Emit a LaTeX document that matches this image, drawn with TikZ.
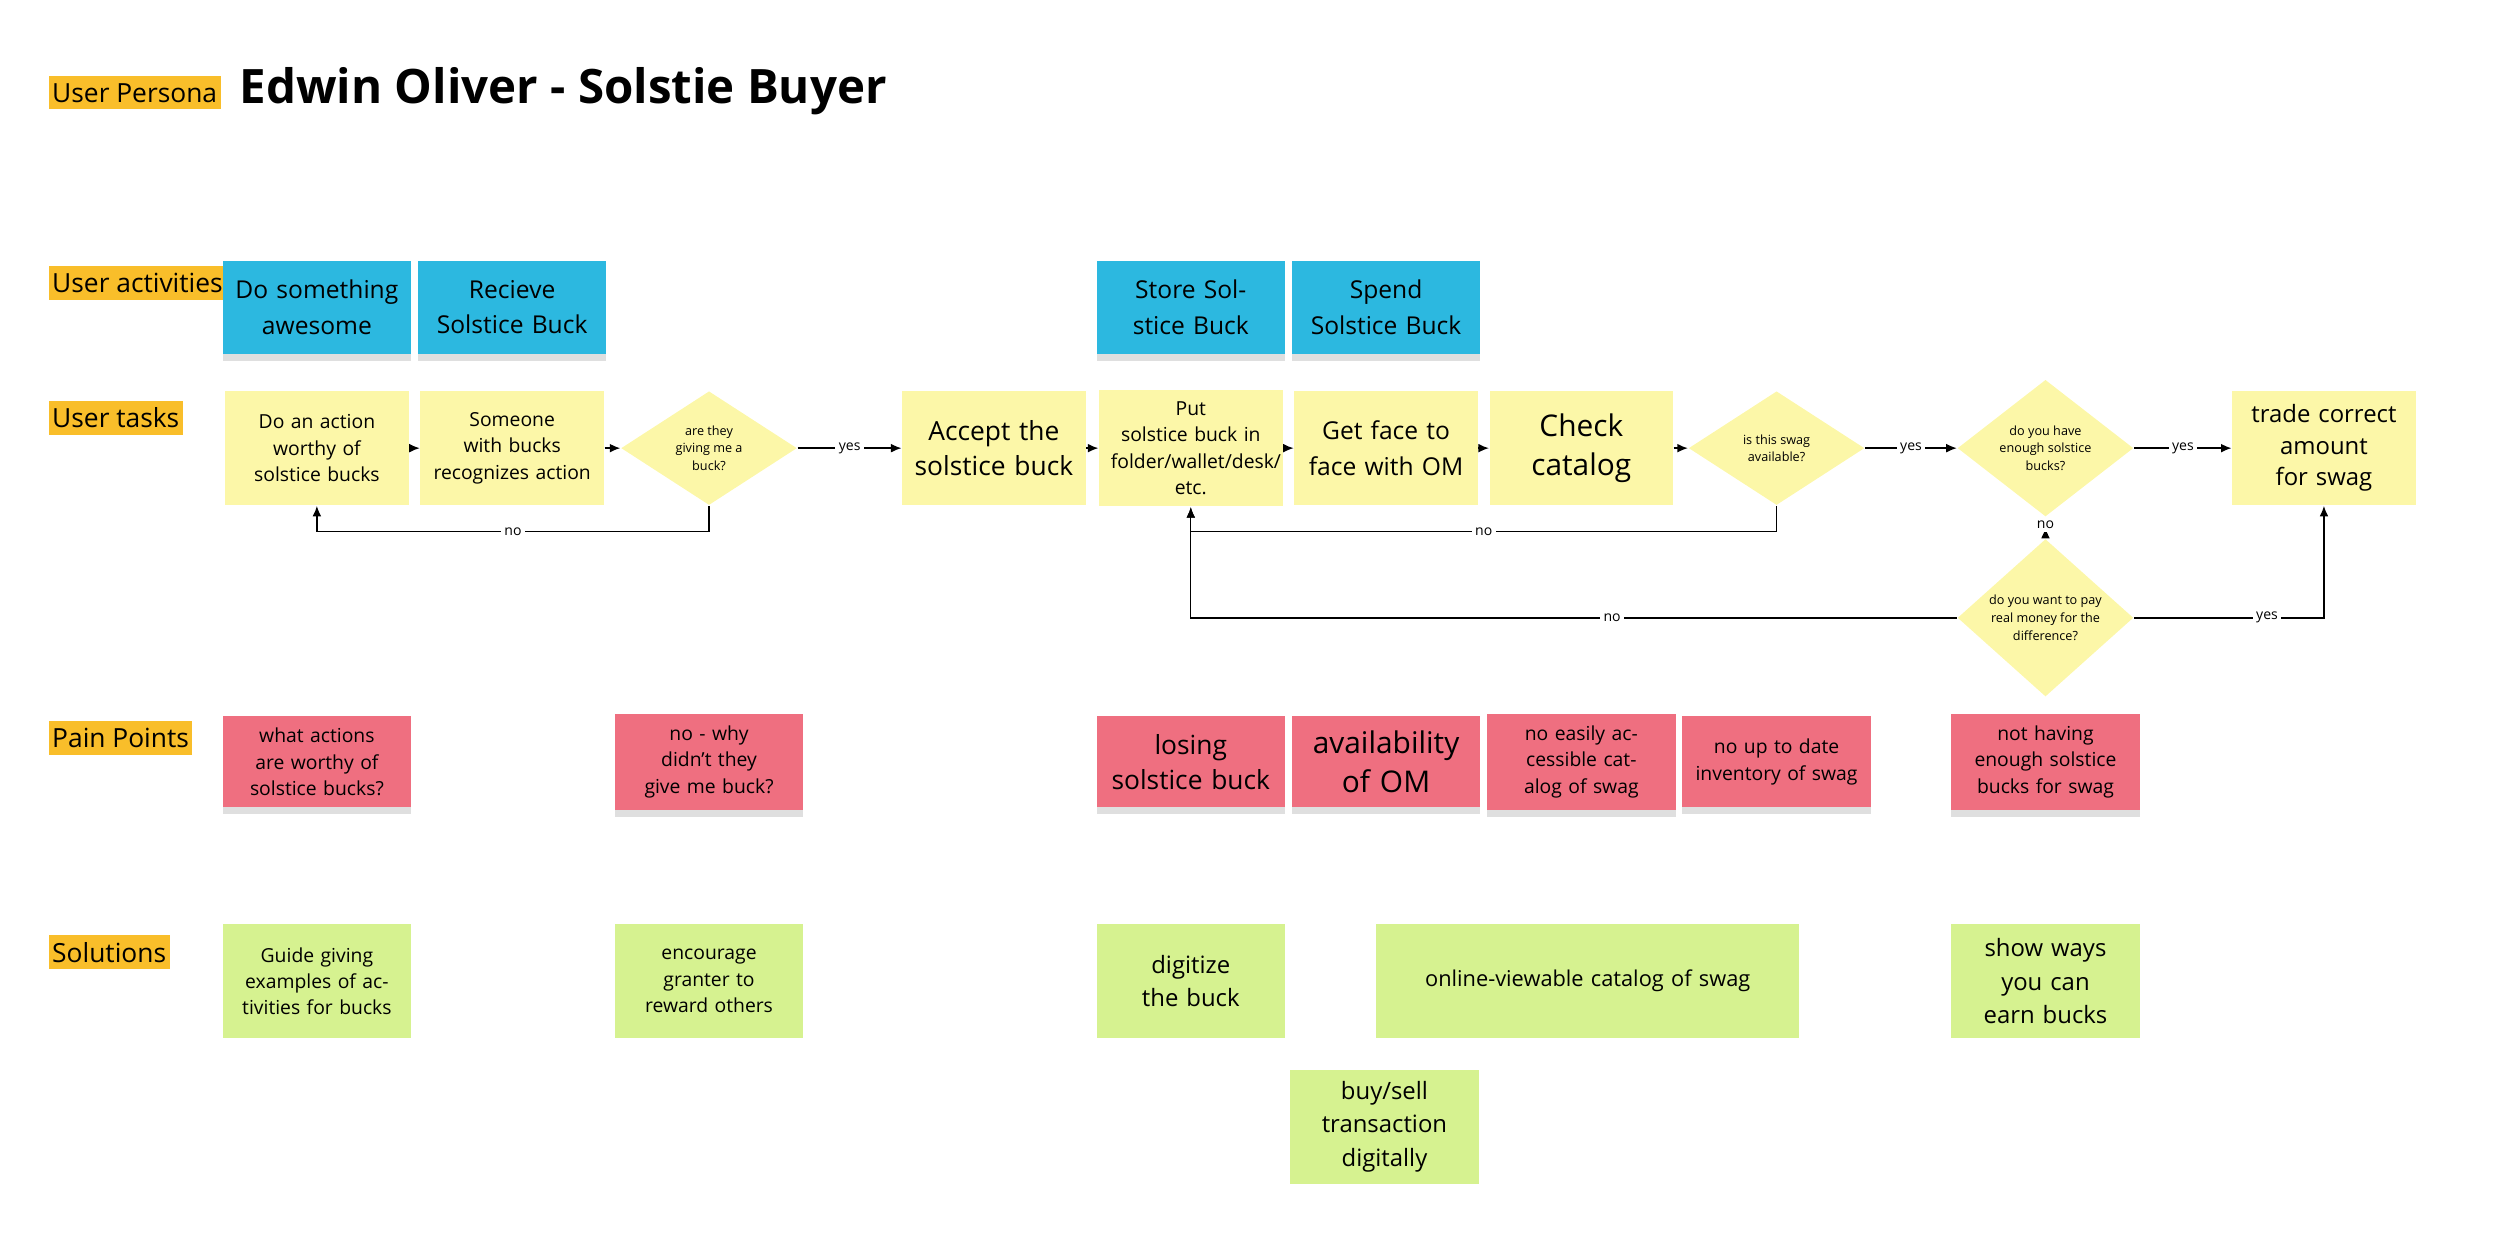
\documentclass[tikz,border=0pt]{standalone}
\usepackage{fontspec}
\setmainfont{Open Sans}
\usetikzlibrary{shapes.geometric,arrows.meta,shadows}
\definecolor{tagor}{HTML}{F9BE2A}
\definecolor{stblue}{HTML}{2CB8E0}
\definecolor{styel}{HTML}{FCF7A8}
\definecolor{stpink}{HTML}{EF6F80}
\definecolor{stgreen}{HTML}{D6F290}
\tikzset{
  tag/.style={fill=tagor, inner xsep=1pt, inner ysep=2pt, anchor=west, font=\fontsize{7.5}{9}\selectfont},
  act/.style={fill=stblue, minimum width=1.71cm, minimum height=0.93cm, align=center, text width=1.65cm,
    font=\fontsize{7}{10}\selectfont, drop shadow={opacity=0.25, shadow xshift=0pt, shadow yshift=-2pt}},
  task/.style={fill=styel, minimum width=1.76cm, minimum height=1.14cm, align=center, text width=1.6cm,
    font=\fontsize{5.5}{7.5}\selectfont},
  bigtask/.style={task, font=\fontsize{7.5}{10}\selectfont},
  ask/.style={diamond, fill=styel, minimum width=1.76cm, minimum height=1.14cm, inner sep=0pt, align=center,
    font=\fontsize{3.6}{5}\selectfont},
  pain/.style={fill=stpink, minimum width=1.71cm, minimum height=0.91cm, align=center, text width=1.65cm,
    font=\fontsize{5.5}{7.5}\selectfont, drop shadow={opacity=0.25, shadow xshift=0pt, shadow yshift=-2pt}},
  fix/.style={fill=stgreen, minimum width=1.76cm, minimum height=1.14cm, align=center, text width=1.65cm,
    font=\fontsize{5.5}{7.5}\selectfont},
  flow/.style={-{Latex[length=3pt,width=2.5pt]}, line width=0.4pt},
  lbl/.style={fill=white, inner sep=1pt, font=\fontsize{4}{5}\selectfont}
}
\begin{document}
\begin{tikzpicture}[x=0.016cm, y=-0.016cm]
  \useasboundingbox (0,0) rectangle (1562,786);
  % row labels
  \node[tag] (persona) at (30,58) {User Persona};
  \node[tag] (acts) at (30,177) {User activities};
  \node[tag] (tasks) at (30,261) {User tasks};
  \node[tag] (pains) at (30,461) {Pain Points};
  \node[tag] (sols) at (30,595) {Solutions};
  \node[anchor=west, font=\fontsize{13.5}{16}\selectfont\bfseries] (title) at (142,57) {Edwin Oliver - Solstie Buyer};

  % activities
  \node[act] (a1) at (198,192) {Do something awesome};
  \node[act] (a2) at (320,192) {Recieve Solstice Buck};
  \node[act] (a3) at (744,192) {Store Solstice Buck};
  \node[act] (a4) at (866,192) {Spend Solstice Buck};

  % tasks
  \node[task] (t1) at (198,280) {Do an action worthy of solstice bucks};
  \node[task] (t2) at (320,280) {Someone with bucks recognizes action};
  \node[ask] (q1) at (443,280) {are they\\giving me a\\buck?};
  \node[bigtask] (t3) at (621,280) {Accept the solstice buck};
  \node[task] (t4) at (744,280) {Put solstice buck in folder/wallet/desk/ etc.};
  \node[bigtask, font=\fontsize{7}{10}\selectfont] (t5) at (866,280) {Get face to face with OM};
  \node[bigtask, font=\fontsize{8.5}{11}\selectfont] (t6) at (988,280) {Check catalog};
  \node[ask] (q2) at (1110,280) {is this swag\\available?};
  \node[ask] (q3) at (1278,280) {do you have\\enough solstice\\bucks?};
  \node[bigtask, font=\fontsize{6.8}{9}\selectfont] (t7) at (1452,280) {trade correct amount for swag};
  \node[ask] (q4) at (1278,386) {do you want to pay\\real money for the\\difference?};

  \draw[flow] (t1) -- (t2);
  \draw[flow] (t2) -- (q1);
  \draw[flow] (q1) -- node[lbl] {yes} (t3);
  \draw[flow] (t3) -- (t4);
  \draw[flow] (t4) -- (t5);
  \draw[flow] (t5) -- (t6);
  \draw[flow] (t6) -- (q2);
  \draw[flow] (q2) -- node[lbl] {yes} (q3);
  \draw[flow] (q3) -- node[lbl] {yes} (t7);
  \draw[flow] (q1.south) |- node[lbl, pos=0.75] {no} (198,332) -- (t1.south);
  \draw[flow] (q2.south) |- node[lbl, pos=0.75] {no} (744,332) -- (t4.south);
  \draw[flow] (q4.west) -- node[lbl, pos=0.45] {no} (744,386) -- (t4.south);
  \draw[-{Latex[length=3pt,width=2.5pt,reversed]}, line width=0.4pt] (q3.south) -- node[lbl, pos=0.35] {no} (q4.north);
  \draw[flow] (q4.east) -| node[lbl, pos=0.35] {yes} (t7.south);

  % pain points
  \node[pain] (p1) at (198,476) {what actions are worthy of solstice bucks?};
  \node[pain] (p2) at (443,476) {no - why didn't they give me buck?};
  \node[pain, font=\fontsize{7.5}{10}\selectfont] (p3) at (744,476) {losing solstice buck};
  \node[pain, font=\fontsize{8.5}{11}\selectfont] (p4) at (866,476) {availability of OM};
  \node[pain] (p5) at (988,476) {no easily accessible catalog of swag};
  \node[pain] (p6) at (1110,476) {no up to date inventory of swag};
  \node[pain] (p7) at (1278,476) {not having enough solstice bucks for swag};

  % solutions
  \node[fix] (s1) at (198,613) {Guide giving examples of activities for bucks};
  \node[fix] (s2) at (443,613) {encourage granter to reward others};
  \node[fix, font=\fontsize{6.8}{9.5}\selectfont] (s3) at (744,613) {digitize the buck};
  \node[fix, minimum width=4.1cm, text width=4cm, font=\fontsize{6.2}{8}\selectfont] (s4) at (992,613) {online-viewable catalog of swag};
  \node[fix, font=\fontsize{6.8}{9.5}\selectfont] (s5) at (1278,613) {show ways you can earn bucks};
  \node[fix, font=\fontsize{6.8}{9.5}\selectfont] (s6) at (865,704) {buy/sell transaction digitally};
\end{tikzpicture}
\end{document}
